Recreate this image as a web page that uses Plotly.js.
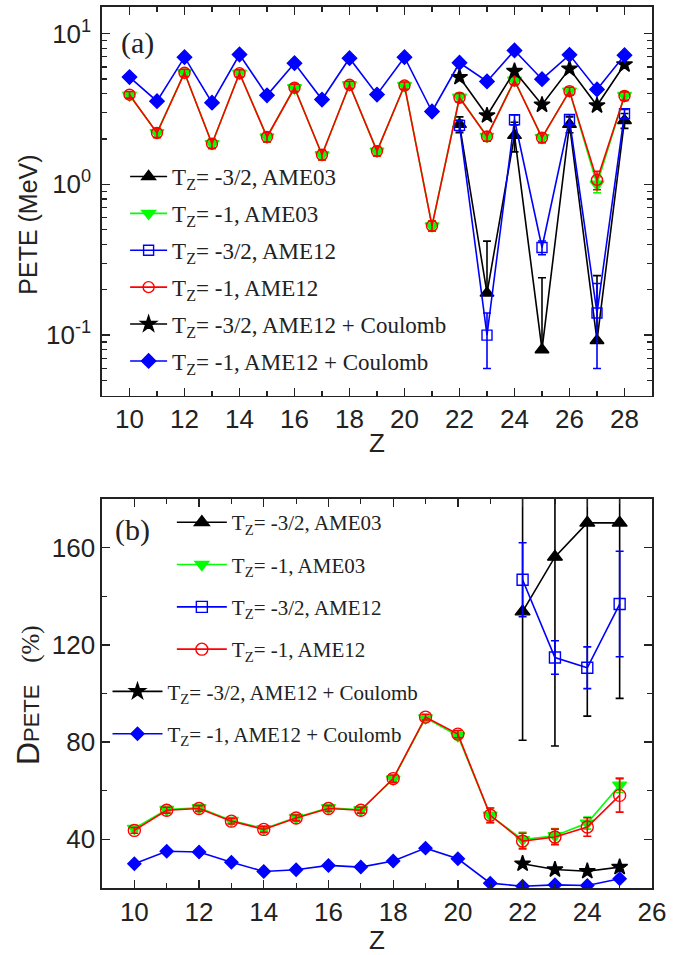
<!DOCTYPE html>
<html>
<head>
<meta charset="utf-8">
<script src="https://cdn.plot.ly/plotly-3.0.1.min.js"></script>
<style>html,body{margin:0;padding:0;background:#fff;}#chart{width:691px;height:955px;}</style>
</head>
<body>
<div id="chart"></div>
<script>
// ---------- Panel (a): PETE (MeV) ----------
const zA_all = [10,11,12,13,14,15,16,17,18,19,20,21,22,23,24,25,26,27,28];
const zA_hi = [22,23,24,25,26,27,28];
const logTickVals = [0.1, 1, 10];
const logTickText = ['10<sup>-1</sup>', '10<sup>0</sup>', '10<sup>1</sup>'];

const a_tri32_AME03 = [2.5, 0.19, 2.11, 0.08, 2.5, 0.092, 2.65];
const a_tri32_AME03_errP = [0.3, 0.23, 0.47, 0.16, 0.3, 0.156, 0.3];
const a_tri32_AME03_errM = [0.3, 0.0, 0.47, 0.0, 0.3, 0.0, 0.3];

const a_tri1_AME03 = [3.9,2.2,5.5,1.86,5.45,2.06,4.37,1.57,4.57,1.66,4.52,0.53,3.78,2.08,4.9,2.04,4.15,1.0,3.88];
const a_tri1_AME03_err = [0.2,0.15,0.3,0.13,0.3,0.15,0.25,0.12,0.25,0.12,0.25,0.04,0.25,0.15,0.3,0.15,0.25,0.12,0.25];

const a_sq32_AME12 = [2.46, 0.10, 2.68, 0.381, 2.69, 0.14, 2.94];
const a_sq32_AME12_err = [0.2, 0.04, 0.2, 0.04, 0.2, 0.08, 0.2];

const a_circ1_AME12 = [3.93,2.19,5.49,1.86,5.45,2.06,4.37,1.57,4.57,1.66,4.52,0.53,3.75,2.08,4.88,2.04,4.15,1.07,3.85];
const a_circ1_AME12_err = [0.2,0.15,0.3,0.13,0.3,0.15,0.25,0.12,0.25,0.12,0.25,0.04,0.25,0.15,0.3,0.15,0.25,0.15,0.25];

const a_star32_Coul = [5.13, 2.86, 5.63, 3.37, 5.84, 3.33, 6.23];

const a_dia1_Coul = [5.14,3.56,6.97,3.48,7.26,3.89,6.36,3.65,6.86,3.94,6.97,3.04,6.40,4.81,7.72,4.98,7.22,4.26,7.18];

// ---------- Panel (b): D_PETE (%) ----------
const zB_all = [10,11,12,13,14,15,16,17,18,19,20,21,22,23,24,25];
const zB_hi = [22,23,24,25];

const b_tri32_AME03 = [133.7, 156.2, 170.2, 170.2];
const b_tri32_AME03_err = [52.9, 77.8, 79.5, 72.2];

const b_tri1_AME03 = [44.5,52.3,53.0,47.8,44.4,49.0,53.0,52.2,64.8,90.0,82.6,49.9,39.9,41.5,46.7,62.3];
const b_tri1_AME03_err = [1.2,1.2,1.2,1.2,1.2,1.2,1.2,1.2,1.5,1.2,1.5,3.0,3.0,3.0,2.5,3.0];

const b_sq32_AME12 = [146.8, 114.8, 110.6, 136.8];
const b_sq32_AME12_err = [15.2, 6.9, 8.6, 21.7];

const b_circ1_AME12 = [43.7,52.0,52.7,47.5,44.1,48.8,52.7,52.0,65.0,90.3,83.3,49.9,39.3,41.0,45.1,58.1];
const b_circ1_AME12_err = [1.2,1.2,1.2,1.2,1.2,1.2,1.2,1.2,1.5,1.2,1.5,3.0,3.2,3.2,3.8,6.9];

const b_star32_Coul = [30.0, 27.6, 26.9, 28.6];

const b_dia1_Coul = [30.0,35.1,34.8,30.6,26.8,27.5,29.3,28.6,31.1,36.4,32.0,22.0,20.7,21.3,21.0,23.8];

// ---------- Legend labels ----------
const names = [
  'T<sub>Z</sub>= -3/2, AME03',
  'T<sub>Z</sub>= -1, AME03',
  'T<sub>Z</sub>= -3/2, AME12',
  'T<sub>Z</sub>= -1, AME12',
  'T<sub>Z</sub>= -3/2, AME12 + Coulomb',
  'T<sub>Z</sub>= -1, AME12 + Coulomb'
];

const BLACK = '#000000', GREEN = '#00ff00', BLUE = '#0000ff', RED = '#ff0000';

function err(arr, arrM, color) {
  const e = {type:'data', array: arr, visible: true, color: color, thickness: 1.6, width: 4};
  if (arrM) { e.symmetric = false; e.arrayminus = arrM; }
  return e;
}

function tr(x, y, name, color, symbol, size, xa, ya, legend, group, e) {
  const t = {
    type:'scatter', mode:'lines+markers', x:x, y:y, name:name,
    xaxis:xa, yaxis:ya, legend:legend, legendgroup:group,
    line:{color: color, width:1.6},
    marker:{symbol:symbol, size:size, color:color, line:{color:color, width:1.4}}
  };
  if (e) t.error_y = e;
  return t;
}

const data = [
  // Panel a
  tr(zA_hi, a_tri32_AME03, names[0], BLACK, 'triangle-up', 12, 'x','y','legend','a1', err(a_tri32_AME03_errP, a_tri32_AME03_errM, BLACK)),
  tr(zA_all, a_tri1_AME03, names[1], GREEN, 'triangle-down', 12, 'x','y','legend','a2', err(a_tri1_AME03_err, null, GREEN)),
  tr(zA_hi, a_sq32_AME12, names[2], BLUE, 'square-open', 10, 'x','y','legend','a3', err(a_sq32_AME12_err, null, BLUE)),
  tr(zA_all, a_circ1_AME12, names[3], RED, 'circle-open', 11, 'x','y','legend','a4', err(a_circ1_AME12_err, null, RED)),
  tr(zA_hi, a_star32_Coul, names[4], BLACK, 'star', 12, 'x','y','legend','a5', null),
  tr(zA_all, a_dia1_Coul, names[5], BLUE, 'diamond', 11, 'x','y','legend','a6', null),
  // Panel b
  tr(zB_hi, b_tri32_AME03, names[0], BLACK, 'triangle-up', 13, 'x2','y2','legend2','b1', err(b_tri32_AME03_err, null, BLACK)),
  tr(zB_all, b_tri1_AME03, names[1], GREEN, 'triangle-down', 12, 'x2','y2','legend2','b2', err(b_tri1_AME03_err, null, GREEN)),
  tr(zB_hi, b_sq32_AME12, names[2], BLUE, 'square-open', 11, 'x2','y2','legend2','b3', err(b_sq32_AME12_err, null, BLUE)),
  tr(zB_all, b_circ1_AME12, names[3], RED, 'circle-open', 12, 'x2','y2','legend2','b4', err(b_circ1_AME12_err, null, RED)),
  tr(zB_hi, b_star32_Coul, names[4], BLACK, 'star', 12, 'x2','y2','legend3','b5', null),
  tr(zB_all, b_dia1_Coul, names[5], BLUE, 'diamond', 10, 'x2','y2','legend3','b6', null)
];

const SANS = 'Liberation Sans, Arial, sans-serif';
const SERIF = 'Liberation Serif, Times New Roman, serif';

const axCommon = {
  showline:true, linecolor:'#222', linewidth:1.6, mirror:'ticks',
  ticks:'inside', ticklen:8, tickwidth:1.3, tickcolor:'#222',
  showgrid:false, zeroline:false,
  tickfont:{family:SANS, size:26, color:'#222'}
};

const layout = {
  width:691, height:955,
  margin:{l:102, r:39, t:7, b:67},
  paper_bgcolor:'#fff', plot_bgcolor:'#fff',
  showlegend:true,
  xaxis: Object.assign({}, axCommon, {
    domain:[0,1], anchor:'y', range:[9,29], dtick:2, tick0:0,
    minor:{ticks:'inside', ticklen:5, dtick:1, tickcolor:'#222', tickwidth:1.2},
    title:{text:'Z', font:{family:SANS, size:26, color:'#222'}, standoff:0}
  }),
  yaxis: Object.assign({}, axCommon, {
    domain:[0.5588,1], anchor:'x', type:'log', range:[-1.402, 1.176],
    tickvals:logTickVals, ticktext:logTickText, ticklabelstandoff:4,
    minor:{ticks:'inside', ticklen:5, dtick:'D1', tickcolor:'#222', tickwidth:1.2}
  }),
  xaxis2: Object.assign({}, axCommon, {
    domain:[0,1], anchor:'y2', range:[9,26], dtick:2, tick0:0,
    minor:{ticks:'inside', ticklen:5, dtick:1, tickcolor:'#222', tickwidth:1.2},
    title:{text:'Z', font:{family:SANS, size:26, color:'#222'}, standoff:2}
  }),
  yaxis2: Object.assign({}, axCommon, {
    domain:[0,0.4415], anchor:'x2', range:[20,180], dtick:40, tick0:0,
    minor:{ticks:'inside', ticklen:5, dtick:20, tickcolor:'#222', tickwidth:1.2}
  }),
  legend:{x:0.042, y:0.832, xanchor:'left', yanchor:'top', bgcolor:'rgba(0,0,0,0)', borderwidth:0,
    font:{family:SERIF, size:23, color:'#222'}, tracegroupgap:4, itemwidth:37, traceorder:'grouped'},
  legend2:{x:0.127, y:0.438, xanchor:'left', yanchor:'top', bgcolor:'rgba(0,0,0,0)', borderwidth:0,
    font:{family:SERIF, size:21, color:'#222'}, tracegroupgap:12, itemwidth:50, traceorder:'grouped'},
  legend3:{x:0.010, y:0.246, xanchor:'left', yanchor:'top', bgcolor:'rgba(0,0,0,0)', borderwidth:0,
    font:{family:SERIF, size:21, color:'#222'}, tracegroupgap:12, itemwidth:50, traceorder:'grouped'},
  annotations:[
    {text:'(a)', xref:'x domain', yref:'y domain', x:0.064, y:0.907, xanchor:'center', yanchor:'middle', showarrow:false,
     font:{family:SERIF, size:30, color:'#222'}},
    {text:'(b)', xref:'x2 domain', yref:'y2 domain', x:0.055, y:0.92, xanchor:'center', yanchor:'middle', showarrow:false,
     font:{family:SERIF, size:30, color:'#222'}},
    {text:'PETE (MeV)', xref:'paper', yref:'y domain', x:-0.1345, y:0.44, xanchor:'center', yanchor:'middle', textangle:-90, showarrow:false,
     font:{family:SANS, size:25, color:'#222'}},
    {text:'<span style="font-size:32px">D</span><span style="font-size:22px">PETE</span>   <span style="font-family:Liberation Serif;font-size:25px">(%)</span>',
     xref:'paper', yref:'y2 domain', x:-0.1345, y:0.496, xanchor:'center', yanchor:'middle', textangle:-90, showarrow:false,
     font:{family:SANS, size:26, color:'#222'}}
  ]
};

Plotly.newPlot('chart', data, layout, {displayModeBar:false, staticPlot:true});
</script>
</body>
</html>
